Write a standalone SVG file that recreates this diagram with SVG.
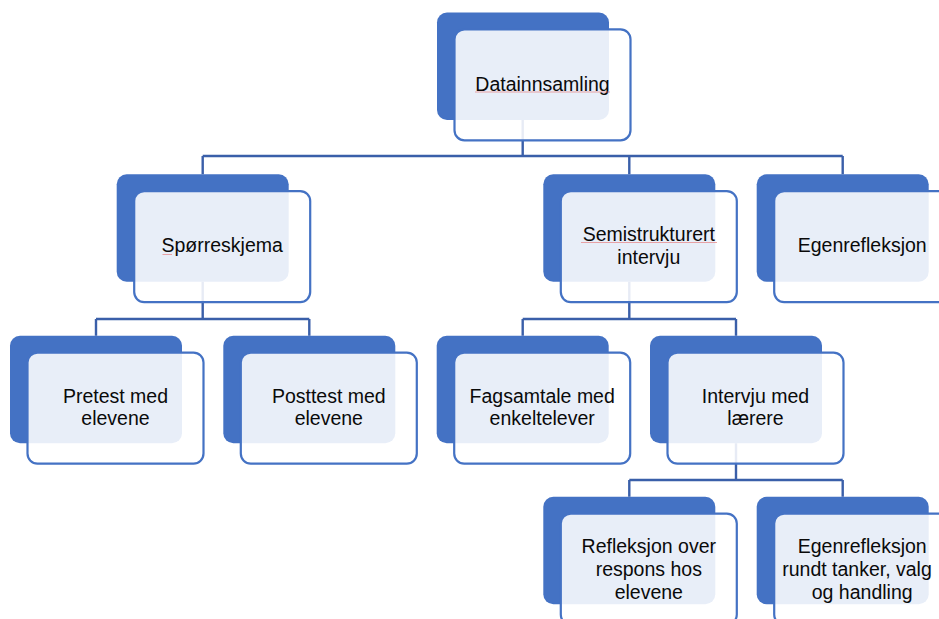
<svg xmlns="http://www.w3.org/2000/svg" width="939" height="619" viewBox="0 0 939 619">
  <style>
    .back { fill: #4472C4; }
    .front { fill: #FFFFFF; fill-opacity: 0.88; stroke: #4472C4; stroke-width: 2.2; }
    .lbl { font-family: "Liberation Sans", Arial, sans-serif; font-size: 19.5px; fill: #0A0A0A; text-anchor: middle; }
    .conn { fill: none; stroke: #3A5FA9; stroke-width: 2.4; }
    .spell { fill: none; stroke: #E57373; stroke-width: 0.9; stroke-opacity: 0.7; }
  </style>
  <defs>
    <!-- one card = solid back tab + translucent outlined front panel -->
    <rect id="backTab" class="back" x="0" y="0" width="172" height="107.5" rx="10" ry="10"/>
    <rect id="frontPanel" class="front" x="17.5" y="16.8" width="176" height="111" rx="10" ry="10"/>
  </defs>

  <!-- back tabs sit under everything -->
  <g id="backs">
    <use href="#backTab" x="437" y="12.5"/>
    <use href="#backTab" x="116.7" y="174.3"/>
    <use href="#backTab" x="543.3" y="174.3"/>
    <use href="#backTab" x="756.7" y="174.3"/>
    <use href="#backTab" x="10" y="335.8"/>
    <use href="#backTab" x="223.3" y="335.8"/>
    <use href="#backTab" x="436.7" y="335.8"/>
    <use href="#backTab" x="650" y="335.8"/>
    <use href="#backTab" x="543.3" y="496.8"/>
    <use href="#backTab" x="756.7" y="496.8"/>
  </g>

  <!-- tree connectors -->
  <g id="connectors">
    <path class="conn" d="M522.7,120 V156 M202.7,156 H842.7 M202.7,156 V174.3 M629.3,156 V174.3 M842.7,156 V174.3"/>
    <path class="conn" d="M202.7,281.8 V319 M96,319 H309.3 M96,319 V335.8 M309.3,319 V335.8"/>
    <path class="conn" d="M629.3,281.8 V319 M522.7,319 H736 M522.7,319 V335.8 M736,319 V335.8"/>
    <path class="conn" d="M736,443.3 V480 M629.3,480 H842.7 M629.3,480 V496.8 M842.7,480 V496.8"/>
  </g>

  <g id="datainnsamling">
    <use href="#frontPanel" x="437" y="12.5"/>
    <text class="lbl" x="542.5" y="91">Datainnsamling</text>
    <path class="spell" d="M475,92 H610"/>
  </g>

  <g id="sporreskjema">
    <use href="#frontPanel" x="116.7" y="174.3"/>
    <text class="lbl" x="222.2" y="252">Spørreskjema</text>
    <path class="spell" d="M162.5,254.5 H172"/>
  </g>

  <g id="semistrukturert">
    <use href="#frontPanel" x="543.3" y="174.3"/>
    <text class="lbl" x="648.8" y="240.7">Semistrukturert</text>
    <text class="lbl" x="648.8" y="263.7">intervju</text>
    <path class="spell" d="M581,242.5 H717"/>
  </g>

  <g id="egenrefleksjon">
    <use href="#frontPanel" x="756.7" y="174.3"/>
    <text class="lbl" x="862.2" y="252">Egenrefleksjon</text>
  </g>

  <g id="pretest">
    <use href="#frontPanel" x="10" y="335.8"/>
    <text class="lbl" x="115.5" y="402.7">Pretest med</text>
    <text class="lbl" x="115.5" y="425.2">elevene</text>
  </g>

  <g id="posttest">
    <use href="#frontPanel" x="223.3" y="335.8"/>
    <text class="lbl" x="328.8" y="402.7">Posttest med</text>
    <text class="lbl" x="328.8" y="425.2">elevene</text>
  </g>

  <g id="fagsamtale">
    <use href="#frontPanel" x="436.7" y="335.8"/>
    <text class="lbl" x="542.2" y="402.7">Fagsamtale med</text>
    <text class="lbl" x="542.2" y="425.2">enkeltelever</text>
  </g>

  <g id="intervju-laerere">
    <use href="#frontPanel" x="650" y="335.8"/>
    <text class="lbl" x="755.5" y="402.7">Intervju med</text>
    <text class="lbl" x="755.5" y="425.2">lærere</text>
  </g>

  <g id="refleksjon-respons">
    <use href="#frontPanel" x="543.3" y="496.8"/>
    <text class="lbl" x="648.8" y="553.3">Refleksjon over</text>
    <text class="lbl" x="648.8" y="576">respons hos</text>
    <text class="lbl" x="648.8" y="599">elevene</text>
  </g>

  <g id="egenrefleksjon-tanker">
    <use href="#frontPanel" x="756.7" y="496.8"/>
    <text class="lbl" x="862.2" y="553.3">Egenrefleksjon</text>
    <text class="lbl" x="857" y="576">rundt tanker, valg</text>
    <text class="lbl" x="862.2" y="599">og handling</text>
  </g>
</svg>
